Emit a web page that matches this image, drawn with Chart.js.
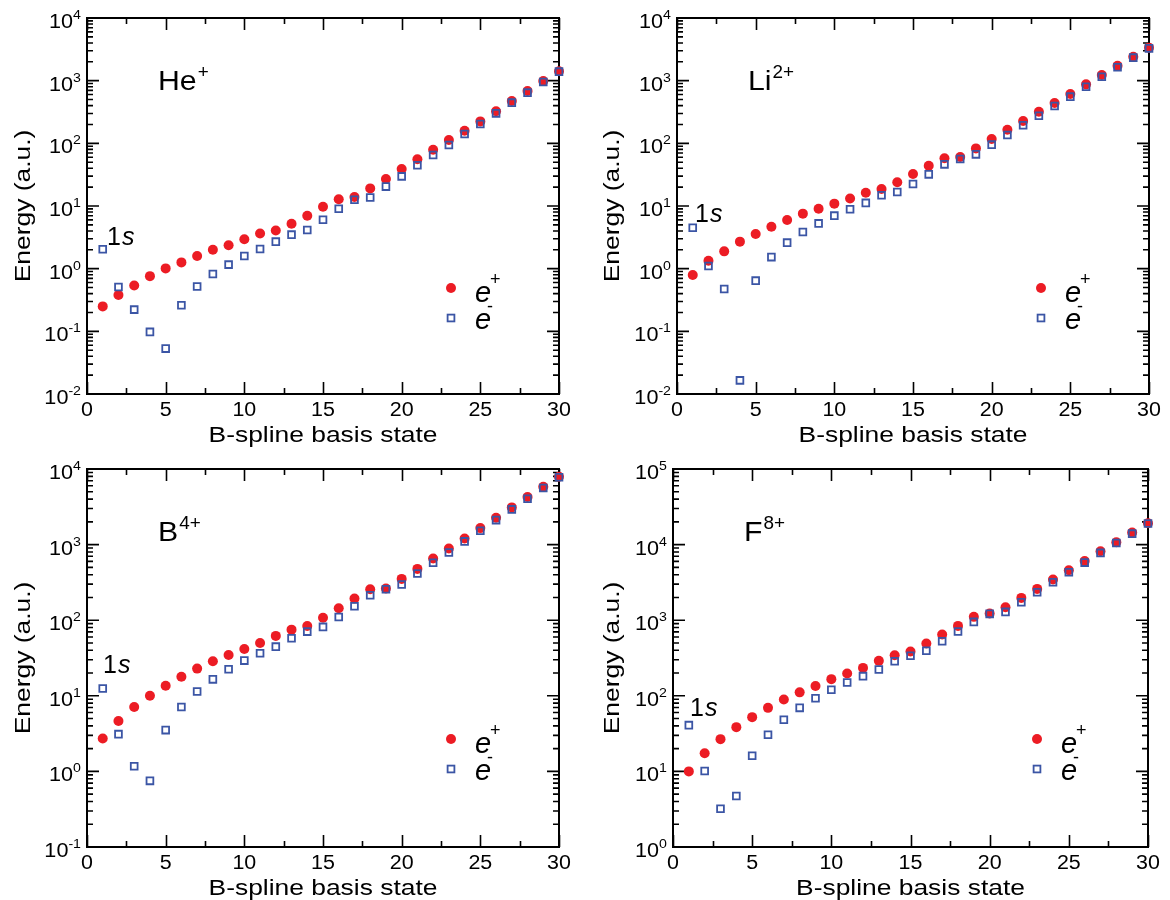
<!DOCTYPE html>
<html>
<head>
<meta charset="utf-8">
<title>B-spline basis state energies</title>
<script src="https://cdn.jsdelivr.net/npm/chart.js@4.4.1/dist/chart.umd.min.js"></script>
<style>
  html, body { margin: 0; padding: 0; background: #fff; }
  #wrap { position: relative; width: 1170px; height: 900px; overflow: hidden; }
  canvas { position: absolute; }
</style>
</head>
<body>
<div id="wrap">
  <canvas id="c1" width="585" height="455" style="left:0;top:0"></canvas>
  <canvas id="c2" width="585" height="455" style="left:585px;top:0"></canvas>
  <canvas id="c3" width="585" height="450" style="left:0;top:450px"></canvas>
  <canvas id="c4" width="585" height="450" style="left:585px;top:450px"></canvas>
</div>
<script>
// basis state index (x) and tick labels
const basisState = [1, 2, 3, 4, 5, 6, 7, 8, 9, 10, 11, 12, 13, 14, 15, 16, 17, 18, 19, 20, 21, 22, 23, 24, 25, 26, 27, 28, 29, 30];
const xTickLabels = [0, 5, 10, 15, 20, 25, 30];

// energies (a.u.)
const heEPlus = [0.25, 0.38, 0.54, 0.76, 1.01, 1.26, 1.59, 2.0, 2.36, 2.94, 3.63, 4.07, 5.2, 7.0, 9.7, 12.8, 13.9, 19.1, 27, 38.9, 55.6, 79, 113, 159, 224, 324, 474, 684, 989, 1410];
const heEMinus = [2.04, 0.51, 0.222, 0.098, 0.053, 0.26, 0.52, 0.82, 1.16, 1.59, 2.06, 2.7, 3.49, 4.14, 6.05, 9.06, 12.6, 13.7, 20.4, 29.7, 44.6, 65, 94, 141, 204, 301, 446, 644, 953, 1393];

const liEPlus = [0.79, 1.34, 1.89, 2.7, 3.57, 4.68, 5.98, 7.55, 9.06, 10.9, 13.2, 16.3, 18.7, 23.9, 32.4, 44, 57.7, 60.5, 83, 117, 165, 227, 320, 440, 612, 873, 1230, 1735, 2415, 3365];
const liEMinus = [4.51, 1.1, 0.474, 0.0165, 0.644, 1.53, 2.6, 3.85, 5.28, 7.01, 8.85, 11.2, 14.8, 16.7, 22.4, 32, 46.2, 56.2, 66.7, 95.3, 136, 194, 276, 394, 556, 801, 1158, 1633, 2330, 3280];

const bEPlus = [2.73, 4.63, 7.1, 10.0, 13.6, 17.9, 22.9, 28.6, 34.7, 41.6, 50, 62, 75, 84, 108, 144, 193, 257, 262, 352, 477, 655, 889, 1205, 1652, 2264, 3105, 4256, 5830, 7910];
const bEMinus = [12.5, 3.11, 1.17, 0.75, 3.52, 7.1, 11.4, 16.5, 22.4, 29.2, 36.5, 44.7, 57.7, 70.6, 81.5, 110, 153, 214, 257, 296, 414, 574, 787, 1102, 1524, 2110, 2922, 4046, 5600, 7760];

const fEPlus = [10, 17.4, 26.7, 38.5, 52.2, 69.3, 89.5, 111, 135, 166, 197, 234, 290, 344, 385, 492, 647, 841, 1107, 1225, 1485, 1972, 2594, 3445, 4580, 6080, 8166, 10740, 14420, 19140];
const fEMinus = [40.9, 10.1, 3.21, 4.72, 16.1, 30.5, 48.2, 69.3, 93, 120, 150, 182, 223, 287, 338, 394, 527, 708, 950, 1213, 1288, 1728, 2344, 3178, 4305, 5780, 7762, 10500, 13960, 18970];

// y axis decades (exponents of the 10^n tick labels)
const heDecades = [-2, -1, 0, 1, 2, 3, 4];
const liDecades = [-2, -1, 0, 1, 2, 3, 4];
const bDecades = [-1, 0, 1, 2, 3, 4];
const fDecades = [0, 1, 2, 3, 4, 5];

const FONT = '"Liberation Sans", Arimo, Helvetica, Arial, sans-serif';
const RED = '#ec1c24';
const BLUE = '#3b55a5';

function txt(ctx, s, x, y, size, o = {}) {
    ctx.save();
    ctx.font = (o.italic ? 'italic ' : '') + size + 'px ' + FONT;
    ctx.translate(x, y);
    if (o.rot) ctx.rotate(o.rot);
    ctx.scale(o.sx || 1, 1);
    ctx.textAlign = o.align || 'left';
    ctx.textBaseline = o.baseline || 'alphabetic';
    ctx.fillStyle = '#000';
    ctx.fillText(s, 0, 0);
    const w = ctx.measureText(s).width * (o.sx || 1);
    ctx.restore();
    return w;
}

function measure(ctx, s, size, sx) {
    ctx.save();
    ctx.font = size + 'px ' + FONT;
    const w = ctx.measureText(s).width * (sx || 1);
    ctx.restore();
    return w;
}

// frame, inward ticks on all four sides, tick labels
const framePlugin = {
    id: 'frame',
    beforeDatasetsDraw(chart, args, opts) {
        const { ctx, chartArea: a, scales: { x, y } } = chart;
        ctx.save();
        ctx.strokeStyle = '#000';
        ctx.lineWidth = 1.6;
        ctx.beginPath();
        // x ticks every 2.5, long ones on the labelled values
        for (let i = 0; i <= 12; i++) {
            const px = Math.round(x.getPixelForValue(i * 2.5)) + 0.5;
            const len = i % 2 === 0 ? 12 : 6;
            ctx.moveTo(px, a.bottom); ctx.lineTo(px, a.bottom - len);
            ctx.moveTo(px, a.top); ctx.lineTo(px, a.top + len);
        }
        // y ticks: decades long, 2..9 short
        const dec = opts.decades;
        dec.forEach((e, k) => {
            const py = y.getPixelForValue(Math.pow(10, e));
            ctx.moveTo(a.left, py); ctx.lineTo(a.left + 12, py);
            ctx.moveTo(a.right, py); ctx.lineTo(a.right - 12, py);
            if (k < dec.length - 1) {
                for (let m = 2; m <= 9; m++) {
                    const pm = y.getPixelForValue(m * Math.pow(10, e));
                    ctx.moveTo(a.left, pm); ctx.lineTo(a.left + 6, pm);
                    ctx.moveTo(a.right, pm); ctx.lineTo(a.right - 6, pm);
                }
            }
        });
        ctx.stroke();
        ctx.lineWidth = 2;
        ctx.strokeRect(a.left, a.top, a.right - a.left, a.bottom - a.top);
        ctx.restore();

        // x tick labels
        xTickLabels.forEach(v => {
            txt(ctx, String(v), x.getPixelForValue(v), a.bottom + 22, 19.5, { align: 'center', sx: 1.1 });
        });
        // y tick labels 10^n
        dec.forEach(e => {
            const py = y.getPixelForValue(Math.pow(10, e));
            const sup = String(e);
            const ws = measure(ctx, sup, 13.5, 1.05);
            const wb = measure(ctx, '10', 20, 1.08);
            const right = a.left - 6;
            txt(ctx, '10', right - ws - wb, py + 10, 20, { sx: 1.08 });
            txt(ctx, sup, right - ws, py + 1, 13.5, { sx: 1.05 });
        });
        // axis titles
        txt(ctx, 'B-spline basis state', (a.left + a.right) / 2, a.bottom + 48, 22, { align: 'center', sx: 1.2 });
        txt(ctx, 'Energy (a.u.)', opts.yTitleX, (a.top + a.bottom) / 2, 22,
            { align: 'center', baseline: 'middle', rot: -Math.PI / 2, sx: 1.2 });
    },
    afterDatasetsDraw(chart, args, opts) {
        const { ctx, chartArea: a } = chart;
        // ion label
        const tx = a.left + 71, ty = a.top + 72;
        const w = txt(ctx, opts.ion, tx, ty, 27, { sx: 1.12 });
        txt(ctx, opts.charge, tx + w + 1, ty - 12, 18, { sx: 1.05 });
        // 1s label
        const sx0 = a.left + opts.sPos[0], sy0 = a.top + opts.sPos[1];
        const w1 = txt(ctx, '1', sx0, sy0, 25);
        txt(ctx, 's', sx0 + w1 + 1, sy0, 25, { italic: true });
        // legend
        const lx = a.left + 364, ly = a.top + 270;
        ctx.save();
        ctx.fillStyle = RED;
        ctx.beginPath();
        ctx.arc(lx, ly, 5, 0, Math.PI * 2);
        ctx.fill();
        ctx.strokeStyle = BLUE;
        ctx.lineWidth = 1.8;
        ctx.strokeRect(lx - 3.4, ly + 30 - 3.4, 6.8, 6.8);
        ctx.restore();
        txt(ctx, 'e', lx + 24, ly + 14, 29, { italic: true });
        txt(ctx, '+', lx + 39, ly - 3, 18);
        txt(ctx, 'e', lx + 24, ly + 41, 29, { italic: true });
        txt(ctx, '-', lx + 36, ly + 24, 18);
    }
};

function makePanel(id, ePlus, eMinus, decades, opts) {
    new Chart(document.getElementById(id), {
        type: 'scatter',
        data: {
            datasets: [{
                label: 'e-',
                data: basisState.map((n, i) => ({ x: n, y: eMinus[i] })),
                pointStyle: 'rect',
                pointRadius: 4.8,
                backgroundColor: 'rgba(0,0,0,0)',
                borderColor: BLUE,
                borderWidth: 1.8,
                order: 0,
                clip: false
            }, {
                label: 'e+',
                data: basisState.map((n, i) => ({ x: n, y: ePlus[i] })),
                pointStyle: 'circle',
                pointRadius: 5,
                backgroundColor: RED,
                borderWidth: 0,
                order: 1,
                clip: false
            }]
        },
        options: {
            responsive: false,
            animation: false,
            events: [],
            layout: { padding: opts.padding },
            scales: {
                x: { type: 'linear', min: 0, max: 30, display: false },
                y: {
                    type: 'logarithmic',
                    min: Math.pow(10, decades[0]),
                    max: Math.pow(10, decades[decades.length - 1]),
                    display: false
                }
            },
            plugins: {
                legend: { display: false },
                tooltip: { enabled: false },
                frame: {
                    decades: decades,
                    ion: opts.ion,
                    charge: opts.charge,
                    sPos: opts.sPos,
                    yTitleX: opts.yTitleX
                }
            }
        },
        plugins: [framePlugin]
    });
}

makePanel('c1', heEPlus, heEMinus, heDecades, {
    padding: { left: 87, right: 26, top: 18, bottom: 61 },
    ion: 'He', charge: '+', sPos: [20, 227], yTitleX: 24
});
makePanel('c2', liEPlus, liEMinus, liDecades, {
    padding: { left: 92, right: 21, top: 18, bottom: 61 },
    ion: 'Li', charge: '2+', sPos: [18, 204], yTitleX: 28
});
makePanel('c3', bEPlus, bEMinus, bDecades, {
    padding: { left: 87, right: 26, top: 19, bottom: 53 },
    ion: 'B', charge: '4+', sPos: [16, 204], yTitleX: 24
});
makePanel('c4', fEPlus, fEMinus, fDecades, {
    padding: { left: 88, right: 22, top: 19, bottom: 53 },
    ion: 'F', charge: '8+', sPos: [17, 247], yTitleX: 28
});
</script>
</body>
</html>
